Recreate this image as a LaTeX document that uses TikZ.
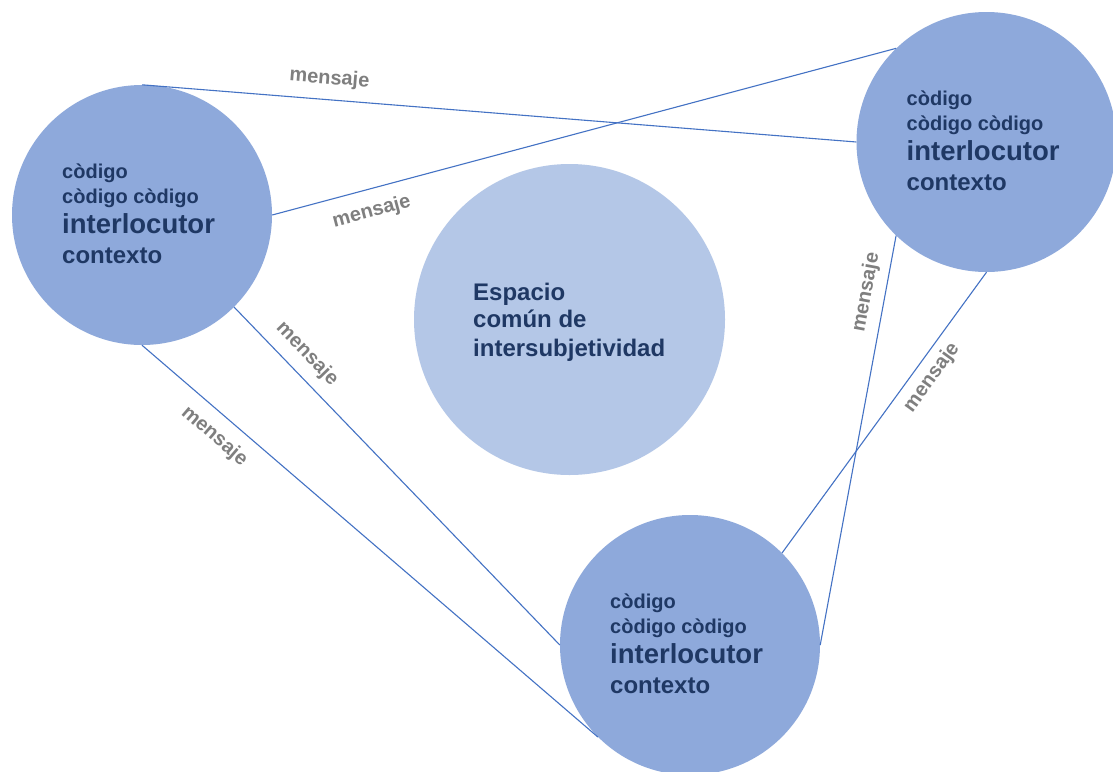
\documentclass[tikz,border=0pt]{standalone}
\usepackage{fontspec}
\setmainfont{Liberation Sans}
\definecolor{circfill}{HTML}{8EA9DB}
\definecolor{centfill}{HTML}{B4C7E7}
\definecolor{linkcol}{HTML}{4472C4}
\definecolor{navyink}{HTML}{1F3864}
\definecolor{msggray}{HTML}{7F7F7F}
\tikzset{
  circ/.style={circle, fill=circfill, minimum size=260pt, inner sep=0pt},
  ctext/.style={anchor=base west, inner sep=0pt, text=navyink},
  link/.style={draw=linkcol, line width=1.1pt},
  msg/.style={sloped, inner sep=0pt, text=msggray, font=\fontsize{20}{24}\selectfont\bfseries},
  persona/.pic={
    \node[circ] (-c) at (0,0) {};
    \node[ctext, font=\fontsize{20}{24}\selectfont\bfseries] (-a) at (-80,-37) {còdigo};
    \node[ctext, font=\fontsize{20}{24}\selectfont\bfseries] (-b) at (-80,-12) {còdigo còdigo};
    \node[ctext, font=\fontsize{27.5}{32}\selectfont\bfseries] (-i) at (-80,18) {interlocutor};
    \node[ctext, font=\fontsize{24}{28}\selectfont\bfseries] (-x) at (-80,48) {contexto};
  }
}
\begin{document}
\begin{tikzpicture}[x=1pt, y=-1pt]
\clip (0,0) rectangle (1113,771);
\fill[white] (0,0) rectangle (1113,771);

% central shared space
\node[circle, fill=centfill, minimum size=311pt, inner sep=0pt] (E) at (569.5,319.5) {};
\node[ctext, font=\fontsize{24}{28}\selectfont\bfseries] (E1) at (473,300) {Espacio};
\node[ctext, font=\fontsize{24}{28}\selectfont\bfseries] (E2) at (473,327) {común de};
\node[ctext, font=\fontsize{24}{28}\selectfont\bfseries] (E3) at (473,356) {intersubjetividad};

% interlocutors
\pic (L) at (142,215) {persona};
\pic (R) at (986.5,142) {persona};
\pic (B) at (690,645) {persona};

% messages
\draw[link] (L-c.north) -- (R-c.west)
  node[msg, pos=.26, above=11pt] (m1) {mensaje};
\draw[link] (L-c.east) -- (R-c.134)
  node[msg, pos=.15, below=13pt] (m2) {mensaje};
\draw[link] (L-c.-45) -- (B-c.west)
  node[msg, pos=.18, above=10pt] (m3) {mensaje};
\draw[link] (L-c.south) -- (B-c.-135)
  node[msg, pos=.19, below=12pt] (m4) {mensaje};
\draw[link] (B-c.east) -- (R-c.-134)
  node[msg, pos=.853, above=9pt] (m5) {mensaje};
\draw[link] (B-c.45) -- (R-c.south)
  node[msg, pos=.662, below=8pt] (m6) {mensaje};
\end{tikzpicture}
\end{document}
